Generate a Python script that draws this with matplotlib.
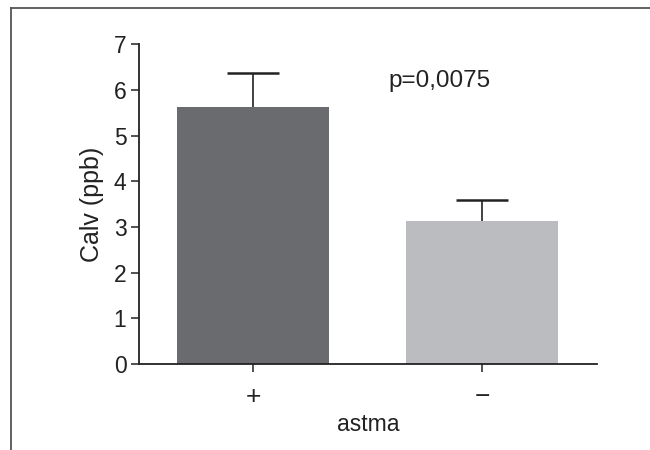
import matplotlib
matplotlib.use("Agg")
import matplotlib.pyplot as plt
from matplotlib.lines import Line2D

plt.rcParams['font.family'] = ['Liberation Sans', 'DejaVu Sans']

# data
groups = ['+', '\u2212']
means = [5.63, 3.12]
errors = [0.74, 0.46]
bar_colors = ['#6a6b6f', '#bbbcbf']
p_text = 'p=0,0075'

FS = 16.5
fig = plt.figure(figsize=(6.5, 4.5), dpi=100)
ax = fig.add_axes([0.2138, 0.191, 0.7045, 0.711])

x = list(range(len(groups)))
ax.bar(x, means, width=0.664, color=bar_colors, edgecolor='none', zorder=2)
# upper error bars only
_, caps, _ = ax.errorbar(x, means, yerr=[[0, 0], errors], fmt='none', ecolor='#222222',
                         elinewidth=1.2, capsize=19, capthick=1.8, zorder=1)
caps[0].set_visible(False)

ax.set_xlim(-0.5, 1.5)
ax.set_ylim(0, 7)
ax.set_yticks(range(0, 8))
ax.set_xticks(x)
ax.set_xticklabels(groups)

for side in ['top', 'right']:
    ax.spines[side].set_visible(False)
for side in ['left', 'bottom']:
    ax.spines[side].set_linewidth(1.3)
    ax.spines[side].set_color('#222222')

ax.tick_params(axis='both', length=6, width=1.1, color='#222222',
               labelsize=FS, labelcolor='#222222', pad=3)
ax.tick_params(axis='x', pad=9, labelsize=19)

ax.set_ylabel('Calv (ppb)', fontsize=18, color='#222222', labelpad=7)
ax.set_xlabel('astma', fontsize=FS, color='#222222', labelpad=3)

ax.text(0.59, 6.2, p_text, fontsize=17.5, color='#222222', va='center', ha='left')

# frame around the panel (only top and left visible)
fig.add_artist(Line2D([10.5 / 650, 1.0], [1 - 8.3 / 450, 1 - 8.3 / 450],
                      transform=fig.transFigure, color='#555555', linewidth=1.3))
fig.add_artist(Line2D([10.5 / 650, 10.5 / 650], [0.0, 1 - 8.3 / 450],
                      transform=fig.transFigure, color='#555555', linewidth=1.3))

fig.savefig('out.png', dpi=100)
